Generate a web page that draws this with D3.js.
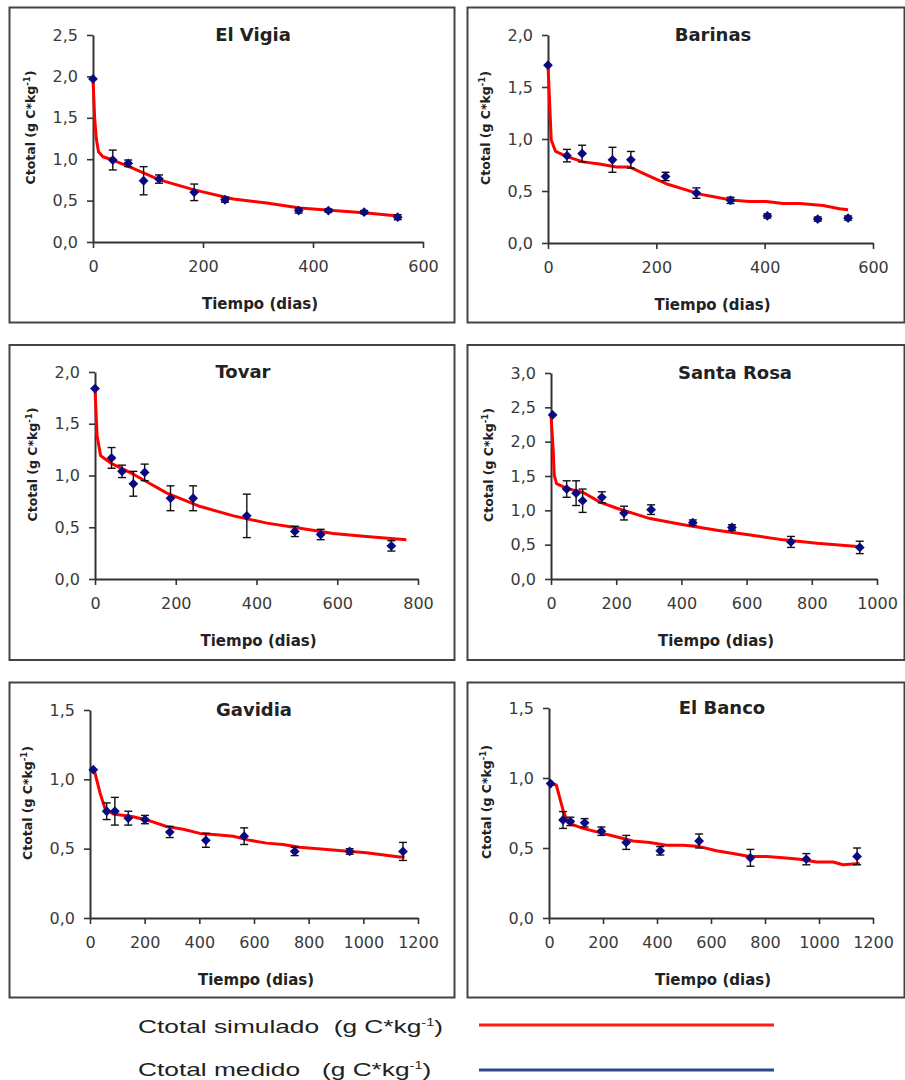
<!DOCTYPE html>
<html>
<head>
<meta charset="utf-8">
<script src="https://cdn.jsdelivr.net/npm/d3@7"></script>
<style>
  body { margin: 0; background: #fff; }
  svg { display: block; }
  .axis .tick text { font-family: "DejaVu Sans", sans-serif; font-size: 16px; fill: #3a3a3a; }
  .axis path { stroke: #333; stroke-width: 2; }
  .axis line { stroke: #333; stroke-width: 1.6; }
</style>
</head>
<body>
<div class="main"></div>
<script>
// sites and axis limits
const sitios = ["El Vigia", "Barinas", "Tovar", "Santa Rosa", "Gavidia", "El Banco"];
const diasMax = [600, 600, 800, 1000, 1200, 1200];
const ctotalMax = [2.5, 2.0, 2.0, 3.0, 1.5, 1.5];

// El Vigia
const vigiaDias    = [0, 36, 64, 92, 120, 184, 240, 374, 428, 493, 554];
const vigiaMedido  = [1.97, 0.99, 0.95, 0.74, 0.76, 0.60, 0.51, 0.38, 0.38, 0.36, 0.30];
const vigiaError   = [0, 0.12, 0.04, 0.17, 0.05, 0.10, 0.03, 0.03, 0.02, 0.02, 0.03];
const vigiaSimDias = [0, 3, 6, 10, 18, 36, 73, 121, 184, 255, 316, 376, 437, 498, 559];
const vigiaSim     = [1.97, 1.50, 1.25, 1.09, 1.03, 0.99, 0.89, 0.75, 0.63, 0.52, 0.47, 0.41, 0.38, 0.35, 0.31];

// Barinas
const barinasDias    = [0, 35, 63, 119, 153, 217, 274, 337, 405, 498, 554];
const barinasMedido  = [1.71, 0.84, 0.86, 0.80, 0.80, 0.64, 0.48, 0.41, 0.26, 0.23, 0.24];
const barinasError   = [0, 0.06, 0.08, 0.12, 0.08, 0.04, 0.05, 0.03, 0.02, 0.02, 0.02];
const barinasSimDias = [0, 6, 14, 35, 65, 95, 126, 151, 188, 218, 249, 280, 311, 342, 372, 403, 434, 465, 508, 538, 554];
const barinasSim     = [1.71, 0.99, 0.88, 0.83, 0.78, 0.76, 0.73, 0.73, 0.64, 0.57, 0.52, 0.47, 0.44, 0.41, 0.40, 0.40, 0.38, 0.38, 0.36, 0.33, 0.32];

// Tovar
const tovarDias    = [0, 41, 67, 95, 123, 187, 243, 376, 495, 559, 734];
const tovarMedido  = [1.84, 1.17, 1.04, 0.92, 1.03, 0.78, 0.78, 0.61, 0.46, 0.43, 0.32];
const tovarError   = [0, 0.10, 0.06, 0.12, 0.08, 0.12, 0.12, 0.21, 0.05, 0.05, 0.05];
const tovarSimDias = [0, 5, 14, 39, 96, 137, 178, 261, 343, 426, 508, 590, 672, 771];
const tovarSim     = [1.84, 1.39, 1.19, 1.12, 1.01, 0.92, 0.83, 0.70, 0.61, 0.54, 0.49, 0.44, 0.41, 0.38];

// Santa Rosa
const rosaDias    = [5, 48, 77, 97, 156, 224, 307, 435, 555, 736, 947];
const rosaMedido  = [2.39, 1.31, 1.25, 1.14, 1.19, 0.96, 1.01, 0.82, 0.75, 0.54, 0.46];
const rosaError   = [0, 0.12, 0.18, 0.17, 0.08, 0.10, 0.07, 0.04, 0.04, 0.08, 0.09];
const rosaSimDias = [0, 7, 10, 17, 48, 99, 150, 202, 304, 406, 509, 611, 713, 816, 949];
const rosaSim     = [2.39, 1.85, 1.51, 1.39, 1.32, 1.26, 1.12, 1.03, 0.88, 0.79, 0.71, 0.64, 0.57, 0.52, 0.47];

// Gavidia
const gavidiaDias    = [12, 61, 91, 140, 201, 292, 424, 564, 749, 950, 1145];
const gavidiaMedido  = [1.07, 0.77, 0.77, 0.72, 0.71, 0.62, 0.56, 0.59, 0.48, 0.48, 0.48];
const gavidiaError   = [0, 0.06, 0.10, 0.05, 0.03, 0.04, 0.05, 0.06, 0.03, 0.02, 0.065];
const gavidiaSimDias = [15, 37, 55, 85, 158, 219, 280, 341, 402, 463, 524, 585, 646, 706, 767, 889, 1011, 1133, 1151];
const gavidiaSim     = [1.07, 0.90, 0.79, 0.75, 0.73, 0.70, 0.66, 0.64, 0.61, 0.60, 0.59, 0.56, 0.54, 0.53, 0.51, 0.49, 0.47, 0.44, 0.44];

// El Banco
const bancoDias    = [6, 52, 79, 132, 194, 286, 412, 556, 746, 953, 1141];
const bancoMedido  = [0.96, 0.70, 0.69, 0.68, 0.62, 0.54, 0.48, 0.55, 0.43, 0.42, 0.44];
const bancoError   = [0, 0.06, 0.03, 0.03, 0.03, 0.05, 0.03, 0.05, 0.06, 0.04, 0.06];
const bancoSimDias = [6, 27, 52, 70, 126, 188, 249, 311, 373, 435, 496, 558, 620, 681, 743, 805, 867, 928, 990, 1052, 1089, 1151];
const bancoSim     = [0.96, 0.95, 0.77, 0.68, 0.64, 0.61, 0.58, 0.55, 0.54, 0.52, 0.52, 0.51, 0.48, 0.46, 0.44, 0.44, 0.43, 0.42, 0.40, 0.40, 0.38, 0.39];

const medidos = [
  [vigiaDias, vigiaMedido, vigiaError],
  [barinasDias, barinasMedido, barinasError],
  [tovarDias, tovarMedido, tovarError],
  [rosaDias, rosaMedido, rosaError],
  [gavidiaDias, gavidiaMedido, gavidiaError],
  [bancoDias, bancoMedido, bancoError]
];
const simulados = [
  [vigiaSimDias, vigiaSim],
  [barinasSimDias, barinasSim],
  [tovarSimDias, tovarSim],
  [rosaSimDias, rosaSim],
  [gavidiaSimDias, gavidiaSim],
  [bancoSimDias, bancoSim]
];

// layout: frame boxes and plot areas [left, right, top, bottom]
const boxX = [9.5, 467.5], boxW = [445, 437];
const boxY = [7.5, 345, 682.5], boxH = 315;
const plots = [
  [93, 423, 35, 242], [548, 873, 35, 243],
  [95, 418, 372, 579], [551, 877, 373, 579],
  [90, 418, 710, 918], [549, 873, 708, 918]
];
const titleX = [253, 713, 243, 735, 254, 722];

const comma = v => d3.format(".1f")(v).replace(".", ",");

const svg = d3.select('.main').append('svg')
    .attr("width", 905)
    .attr("height", 1080);

sitios.forEach(function(sitio, i) {
    const col = i % 2, row = Math.floor(i / 2);
    const p = plots[i];

    // frame
    svg.append("rect")
        .attr("x", boxX[col]).attr("y", boxY[row])
        .attr("width", boxW[col]).attr("height", boxH)
        .attr("fill", "none")
        .attr("stroke", "#444")
        .attr("stroke-width", 2);

    const x = d3.scaleLinear().domain([0, diasMax[i]]).range([p[0], p[1]]);
    const y = d3.scaleLinear().domain([0, ctotalMax[i]]).range([p[3], p[2]]);

    svg.append("g")
        .attr("class", "axis")
        .attr("transform", "translate(0," + p[3] + ")")
        .call(d3.axisBottom(x).tickValues(d3.range(0, diasMax[i] + 1, 200))
            .tickSizeInner(6).tickSizeOuter(0).tickPadding(13).tickFormat(d3.format("d")));

    svg.append("g")
        .attr("class", "axis")
        .attr("transform", "translate(" + p[0] + ",0)")
        .call(d3.axisLeft(y).tickValues(d3.range(0, ctotalMax[i] + 0.01, 0.5))
            .tickSizeInner(6).tickSizeOuter(0).tickPadding(9).tickFormat(comma));

    // title
    svg.append("text")
        .attr("x", titleX[i]).attr("y", p[2] + 6)
        .attr("text-anchor", "middle")
        .attr("font-family", "DejaVu Sans, sans-serif")
        .attr("font-weight", "bold")
        .attr("font-size", 18)
        .attr("fill", "#222")
        .text(sitio);

    // x title
    svg.append("text")
        .attr("x", (p[0] + p[1]) / 2 + 2).attr("y", p[3] + 67)
        .attr("text-anchor", "middle")
        .attr("font-family", "DejaVu Sans, sans-serif")
        .attr("font-weight", "bold")
        .attr("font-size", 15)
        .attr("fill", "#222")
        .text("Tiempo (dias)");

    // y title
    const yl = svg.append("text")
        .attr("transform", "translate(" + (p[0] - 62) + "," + ((p[2] + p[3]) / 2 - 11) + ") rotate(-90)")
        .attr("text-anchor", "middle")
        .attr("dy", "0.35em")
        .attr("font-family", "DejaVu Sans, sans-serif")
        .attr("font-weight", "bold")
        .attr("font-size", 12.5)
        .attr("fill", "#222");
    yl.append("tspan").text("Ctotal (g C*kg");
    yl.append("tspan").attr("dy", -5).attr("font-size", 8.5).text("-1");
    yl.append("tspan").attr("dy", 5).text(")");

    // simulated line
    const sim = simulados[i][0].map((d, k) => ({ dia: d, c: simulados[i][1][k] }));
    svg.append("path")
        .datum(sim)
        .attr("fill", "none")
        .attr("stroke", "#ff0000")
        .attr("stroke-width", 3)
        .attr("stroke-linejoin", "round")
        .attr("d", d3.line().x(d => x(d.dia)).y(d => y(d.c)));

    // measured points with error bars
    const med = medidos[i][0].map((d, k) => ({ dia: d, c: medidos[i][1][k], e: medidos[i][2][k] }));
    const eb = svg.append("g").attr("stroke", "#111").attr("stroke-width", 1.4);
    med.filter(d => d.e > 0).forEach(function(d) {
        eb.append("line").attr("x1", x(d.dia)).attr("x2", x(d.dia))
            .attr("y1", y(d.c - d.e)).attr("y2", y(d.c + d.e));
        eb.append("line").attr("x1", x(d.dia) - 4).attr("x2", x(d.dia) + 4)
            .attr("y1", y(d.c - d.e)).attr("y2", y(d.c - d.e));
        eb.append("line").attr("x1", x(d.dia) - 4).attr("x2", x(d.dia) + 4)
            .attr("y1", y(d.c + d.e)).attr("y2", y(d.c + d.e));
    });

    svg.append("g").selectAll("path")
        .data(med)
        .enter().append("path")
        .attr("d", d3.symbol().type(d3.symbolSquare).size(48))
        .attr("transform", d => "translate(" + x(d.dia) + "," + y(d.c) + ") rotate(45)")
        .attr("fill", "#0a0a80");
});

// legend
const legend = [
  { label: "Ctotal simulado  (g C*kg", color: "#ff1a1a", y: 1033, ly: 1025 },
  { label: "Ctotal medido   (g C*kg", color: "#2c4a8c", y: 1076, ly: 1070 }
];
legend.forEach(function(l) {
    const t = svg.append("text")
        .attr("transform", "translate(138," + l.y + ") scale(1.46,1)")
        .attr("font-family", "Liberation Sans, Arial, sans-serif")
        .attr("font-size", 18)
        .attr("fill", "#222")
        .style("white-space", "pre");
    t.append("tspan").text(l.label);
    t.append("tspan").attr("dy", -7).attr("font-size", 10).text("-1");
    t.append("tspan").attr("dy", 7).text(")");
    svg.append("line")
        .attr("x1", 479).attr("x2", 774)
        .attr("y1", l.ly).attr("y2", l.ly)
        .attr("stroke", l.color)
        .attr("stroke-width", 3);
});
</script>
</body>
</html>
